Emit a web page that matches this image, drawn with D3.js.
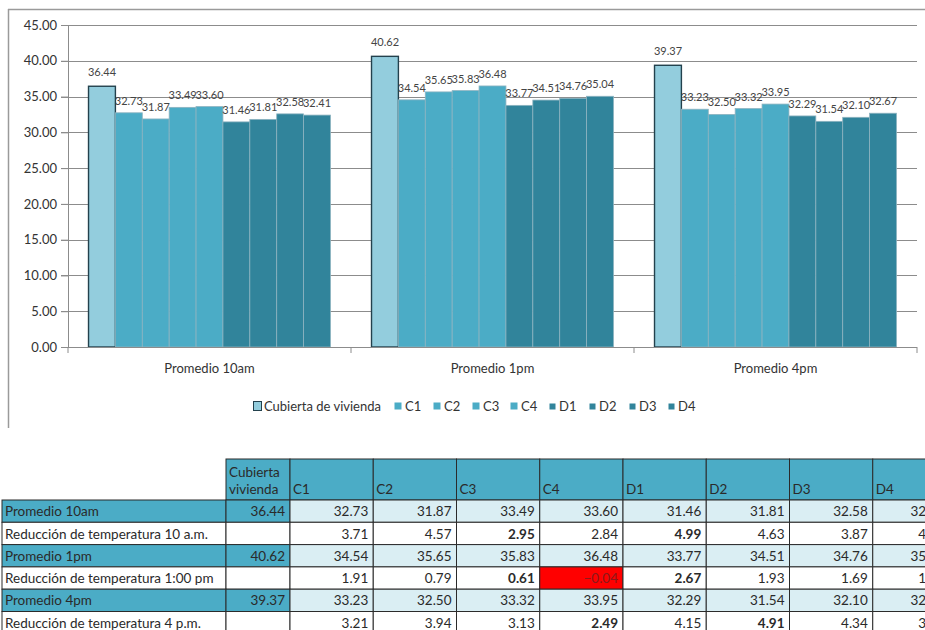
<!DOCTYPE html>
<meta charset="utf-8">
<style>
  body { margin: 0; background: #fff; }
  svg { display: block; font-family: Lato, "Liberation Sans", sans-serif; }
</style>
<body>
<script src="https://cdn.jsdelivr.net/npm/d3@7"></script>
<script>

    // datos
    var categories = ["Promedio 10am", "Promedio 1pm", "Promedio 4pm"];
    var series = ["Cubierta de vivienda", "C1", "C2", "C3", "C4", "D1", "D2", "D3", "D4"];
    var promedio10am = [36.44, 32.73, 31.87, 33.49, 33.60, 31.46, 31.81, 32.58, 32.41];
    var promedio1pm  = [40.62, 34.54, 35.65, 35.83, 36.48, 33.77, 34.51, 34.76, 35.04];
    var promedio4pm  = [39.37, 33.23, 32.50, 33.32, 33.95, 32.29, 31.54, 32.10, 32.67];
    var yTicks = [0, 5, 10, 15, 20, 25, 30, 35, 40, 45];

    var reduccion10am = [3.71, 4.57, 2.95, 2.84, 4.99, 4.63, 3.87, 4.03];
    var reduccion1pm  = [1.91, 0.79, 0.61, -0.04, 2.67, 1.93, 1.69, 1.40];
    var reduccion4pm  = [3.21, 3.94, 3.13, 2.49, 4.15, 4.91, 4.34, 3.77];
    var negrita10am = ["C3", "D1"];
    var negrita1pm  = ["C3", "D1"];
    var negrita4pm  = ["C4", "D2"];
    var tableHeader = ["Cubierta vivienda", "C1", "C2", "C3", "C4", "D1", "D2", "D3", "D4"];

    var promedios = [promedio10am, promedio1pm, promedio4pm];

    var width = 925,
        height = 630;

    var svg = d3.select("body").append("svg")
            .attr("width", width)
            .attr("height", height);

    svg.append("rect").attr("width", width).attr("height", height).attr("fill", "#fff");

    // colores de las series
    var color = d3.scaleOrdinal()
            .domain(series)
            .range(["#93cddd", "#4bacc6", "#4bacc6", "#4bacc6", "#4bacc6",
                    "#31849b", "#31849b", "#31849b", "#31849b"]);

    // marco del grafico
    svg.append("line").attr("x1", 8.5).attr("x2", 8.5).attr("y1", 9).attr("y2", 428)
            .attr("stroke", "#9a9a9a").attr("stroke-width", 1.5);
    svg.append("line").attr("x1", 8).attr("x2", width).attr("y1", 9.5).attr("y2", 9.5)
            .attr("stroke", "#9a9a9a").attr("stroke-width", 1.5);

    var plotLeft = 68, plotRight = 917, plotTop = 25, plotBottom = 347;

    var y = d3.scaleLinear().domain([0, 45]).range([plotBottom, plotTop]);
    var x0 = d3.scaleBand().domain(categories).range([plotLeft, plotRight])
            .paddingInner(0.145).paddingOuter(0.0725);
    var x1 = d3.scaleBand().domain(series).range([0, x0.bandwidth()]);

    // lineas de cuadricula
    svg.append("g").selectAll("line").data(yTicks.filter(function(d) { return d > 0; }))
            .enter().append("line")
            .attr("x1", plotLeft - 7).attr("x2", plotRight)
            .attr("y1", function(d) { return Math.round(y(d)) + 0.5; })
            .attr("y2", function(d) { return Math.round(y(d)) + 0.5; })
            .attr("stroke", "#8c8c8c").attr("stroke-width", 1);

    // eje y
    var yAxis = svg.append("g").attr("transform", "translate(" + plotLeft + ",0)")
            .call(d3.axisLeft(y).tickValues(yTicks).tickSize(7).tickPadding(4)
                .tickFormat(d3.format(".2f")));
    yAxis.select(".domain").attr("stroke", "#8c8c8c");
    yAxis.selectAll(".tick line").attr("stroke", "#8c8c8c");
    yAxis.selectAll("text").attr("font-size", "13px").attr("fill", "#333")
            .attr("font-family", "Lato, sans-serif");

    // barras
    var groups = svg.append("g").selectAll("g").data(categories).enter().append("g")
            .attr("transform", function(d) { return "translate(" + x0(d) + ",0)"; });

    function groupData(d, i) {
        return series.map(function(s, j) { return {serie: s, value: promedios[i][j]}; });
    }

    groups.selectAll("rect").data(groupData)
            .enter().append("rect")
            .attr("x", function(d) { return x1(d.serie); })
            .attr("width", x1.bandwidth())
            .attr("y", function(d) { return y(d.value); })
            .attr("height", function(d) { return y(0) - y(d.value); })
            .attr("fill", function(d) { return color(d.serie); })
            .attr("stroke", function(d) { return d.serie === series[0] ? "#23414d" : "#8db3c0"; })
            .attr("stroke-width", function(d) { return d.serie === series[0] ? 1.4 : 0.8; });

    groups.selectAll("text").data(groupData)
            .enter().append("text")
            .attr("x", function(d) { return x1(d.serie) + x1.bandwidth() / 2; })
            .attr("y", function(d) { return y(d.value) - (d.serie === series[0] ? 10 : 8); })
            .attr("text-anchor", "middle")
            .attr("font-size", "11px")
            .attr("fill", "#444")
            .text(function(d) { return d3.format(".2f")(d.value); });

    // eje x
    svg.append("line").attr("x1", plotLeft).attr("x2", plotRight)
            .attr("y1", plotBottom + 0.5).attr("y2", plotBottom + 0.5)
            .attr("stroke", "#8c8c8c");
    var xTicks = [0, 1, 2, 3].map(function(i) { return plotLeft + i * x0.step(); });
    svg.append("g").selectAll("line").data(xTicks).enter().append("line")
            .attr("x1", function(d) { return d; }).attr("x2", function(d) { return d; })
            .attr("y1", plotBottom).attr("y2", plotBottom + 6)
            .attr("stroke", "#8c8c8c");
    svg.append("g").selectAll("text").data(categories).enter().append("text")
            .attr("x", function(d) { return x0(d) + x0.bandwidth() / 2; })
            .attr("y", 373)
            .attr("text-anchor", "middle")
            .attr("font-size", "13px")
            .attr("fill", "#333")
            .text(function(d) { return d; });

    // leyenda
    var legendX = [253, 394, 433, 472, 510, 548, 588, 628, 667];
    var legend = svg.append("g").selectAll("g").data(series).enter().append("g")
            .attr("transform", function(d, i) { return "translate(" + legendX[i] + ",401)"; });
    legend.append("rect")
            .attr("x", 0.5).attr("y", 0.5)
            .attr("width", function(d, i) { return i === 0 ? 8 : (i > 4 ? 6 : 7); })
            .attr("height", function(d, i) { return i === 0 ? 9 : (i > 4 ? 6 : 7); })
            .attr("transform", function(d, i) { return i > 4 ? "translate(1,2)" : (i > 0 ? "translate(0,1)" : null); })
            .attr("fill", function(d) { return color(d); })
            .attr("stroke", function(d, i) { return i === 0 ? "#23414d" : "none"; });
    legend.append("text")
            .attr("x", 11)
            .attr("y", 9.5)
            .attr("font-size", "13px")
            .attr("fill", "#333")
            .text(function(d) { return d; });

    // tabla
    var rowLabels = ["Promedio 10am", "Reducción de temperatura 10 a.m.", "Promedio 1pm",
                     "Reducción de temperatura 1:00 pm", "Promedio 4pm", "Reducción de temperatura 4 p.m."];
    var rowValues = [promedio10am, [null].concat(reduccion10am), promedio1pm,
                     [null].concat(reduccion1pm), promedio4pm, [null].concat(reduccion4pm)];
    var rowBold = [[], negrita10am, [], negrita1pm, [], negrita4pm];

    var tableTop = 459, headerH = 41, rowH = 22.3;
    var labelLeft = 2, labelRight = 226, cubRight = 290;
    var colX = d3.scaleBand().domain(series.slice(1)).range([cubRight, cubRight + 8 * 83.25]);
    function cellX(j) { return j === 0 ? labelRight : colX(series[j]); }
    function cellW(j) {
        if (j === 0) return cubRight - labelRight;
        return j === series.length - 1 ? colX.bandwidth() - 6 : colX.bandwidth();
    }
    var rowY = d3.scaleLinear().domain([0, 1]).range([tableTop + headerH, tableTop + headerH + rowH]);

    var table = svg.append("g");
    var border = "#2b2b2b";
    var fs = "13.5px";

    // encabezado
    table.selectAll(".hdr").data(tableHeader).enter().append("rect")
            .attr("x", function(d, j) { return cellX(j); })
            .attr("y", tableTop).attr("width", function(d, j) { return cellW(j); })
            .attr("height", headerH)
            .attr("fill", "#4bacc6").attr("stroke", border).attr("stroke-width", 1);
    table.selectAll(".hdrText").data(tableHeader).enter().append("text")
            .attr("x", function(d, j) { return cellX(j) + 3; })
            .attr("y", tableTop + headerH - 6)
            .attr("font-size", fs).attr("fill", "#2a2a2a")
            .each(function(d, j) {
                var t = d3.select(this);
                if (j === 0) {
                    var w = d.split(" ");
                    t.append("tspan").attr("x", cellX(j) + 3).attr("dy", -17).text(w[0]);
                    t.append("tspan").attr("x", cellX(j) + 3).attr("dy", 17).text(w[1]);
                } else {
                    t.text(d);
                }
            });

    // filas
    var rows = table.selectAll(".row").data(rowLabels).enter().append("g")
            .attr("transform", function(d, i) { return "translate(0," + rowY(i) + ")"; });

    rows.append("rect")
            .attr("x", labelLeft).attr("width", labelRight - labelLeft).attr("height", rowH)
            .attr("fill", function(d, i) { return i % 2 === 0 ? "#4bacc6" : "#fff"; })
            .attr("stroke", border).attr("stroke-width", 1);
    rows.append("text")
            .attr("x", labelLeft + 3).attr("y", rowH - 6)
            .attr("font-size", fs).attr("fill", "#2a2a2a")
            .text(function(d) { return d; });

    rows.each(function(d, i) {
        var g = d3.select(this);
        var vals = rowValues[i];
        g.selectAll("rect.cell").data(vals).enter().append("rect")
                .attr("class", "cell")
                .attr("x", function(v, j) { return cellX(j); })
                .attr("width", function(v, j) { return cellW(j); })
                .attr("height", rowH)
                .attr("fill", function(v, j) {
                    if (v !== null && v < 0) return "#ff0000";
                    if (i % 2 === 0) return j === 0 ? "#4bacc6" : "#daeef3";
                    return "#fff";
                })
                .attr("stroke", border).attr("stroke-width", 1);
        g.selectAll("text.val").data(vals).enter().append("text")
                .attr("class", "val")
                .attr("x", function(v, j) { return cellX(j) + cellW(j) - 5; })
                .attr("y", rowH - 6)
                .attr("text-anchor", "end")
                .attr("font-size", fs)
                .attr("font-weight", function(v, j) { return rowBold[i].indexOf(series[j]) >= 0 ? "bold" : null; })
                .attr("fill", function(v) { return v !== null && v < 0 ? "#8a1a1a" : "#2a2a2a"; })
                .text(function(v) { return v === null ? "" : d3.format(".2f")(v); });
    });

</script>
